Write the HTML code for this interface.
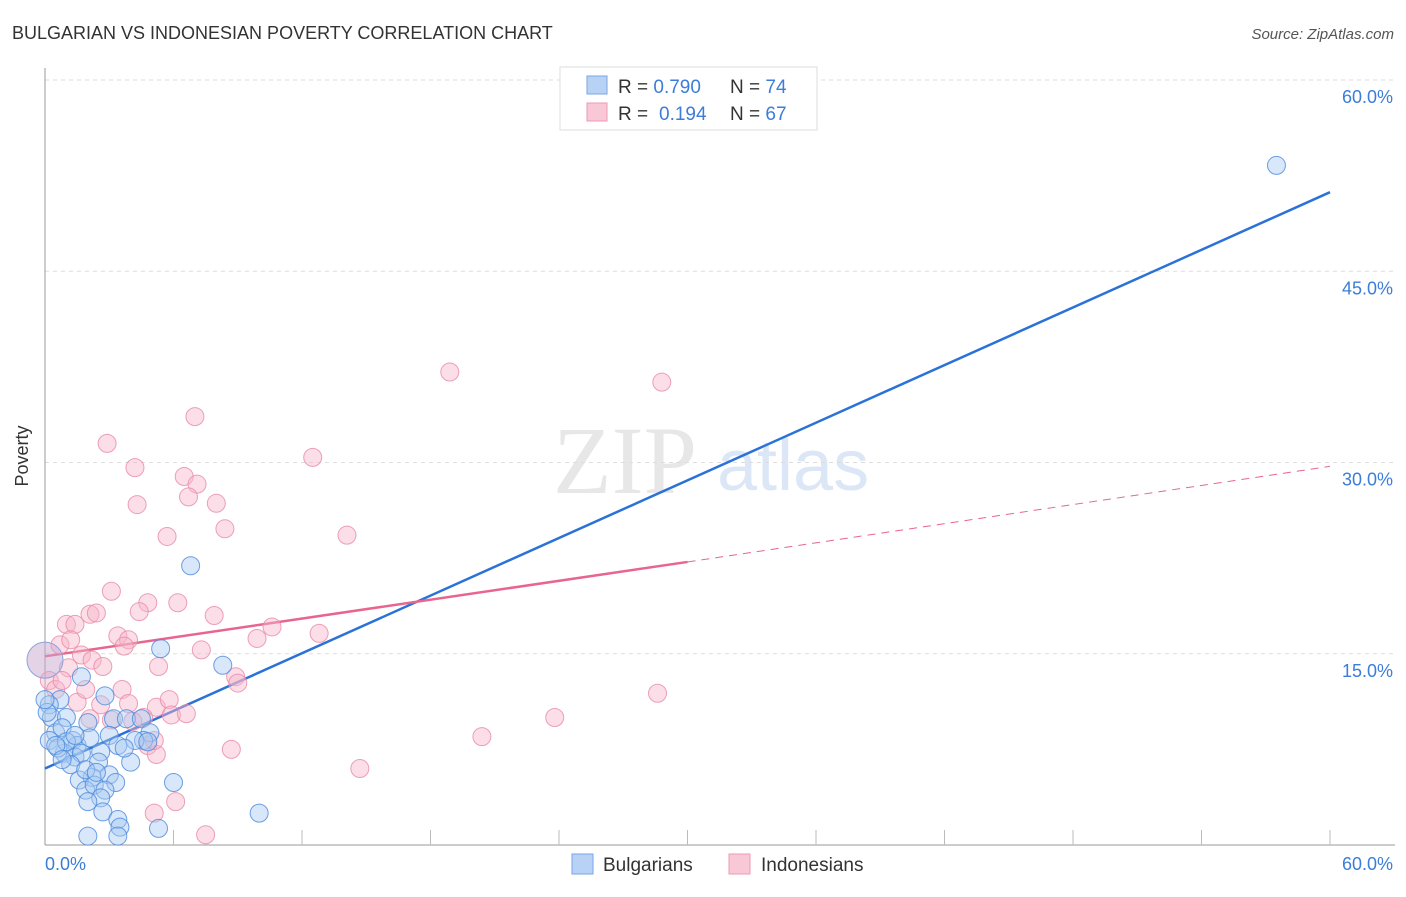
<!DOCTYPE html>
<html><head><meta charset="utf-8"><style>
body{margin:0;background:#fff;font-family:"Liberation Sans",sans-serif}
svg text{font-family:"Liberation Sans",sans-serif}
</style></head><body>
<svg id="chart" width="1406" height="892">
<text x="12" y="39" font-size="18" fill="#333">BULGARIAN VS INDONESIAN POVERTY CORRELATION CHART</text>
<text x="1394" y="39" font-size="15" font-style="italic" fill="#555" text-anchor="end">Source: ZipAtlas.com</text>
<g opacity="0.35">
<text x="553" y="493" font-size="96" font-family="Liberation Serif,serif" fill="#bbb" style="font-family:'Liberation Serif',serif">ZIP</text>
<text x="717" y="490" font-size="72" fill="#9bbbe8">atlas</text>
</g>
<g id="grid"></g>
<g id="axes"></g>
<g id="lines"></g>
<g id="pts"></g>
<text x="28" y="456" font-size="18" fill="#333" transform="rotate(-90 28 456)" text-anchor="middle">Poverty</text>
<g>
<rect x="560" y="67" width="257" height="63" fill="#fff" stroke="#ddd"/>
<rect x="587" y="76" width="20" height="18" fill="#b7d2f5" stroke="#7aa6e6"/>
<rect x="587" y="103" width="20" height="18" fill="#f9c8d6" stroke="#ee9ab2"/>
<text x="618" y="93" font-size="19" fill="#333">R = <tspan fill="#3b7dd8">0.790</tspan><tspan x="730">N = </tspan><tspan fill="#3b7dd8">74</tspan></text>
<text x="618" y="120" font-size="19" fill="#333">R = <tspan x="659" fill="#3b7dd8">0.194</tspan><tspan x="730">N = </tspan><tspan fill="#3b7dd8">67</tspan></text>
</g>
<g>
<rect x="572" y="854" width="21" height="20" fill="#b7d2f5" stroke="#7aa6e6"/>
<text x="603" y="871" font-size="19" fill="#333">Bulgarians</text>
<rect x="729" y="854" width="21" height="20" fill="#f9c8d6" stroke="#ee9ab2"/>
<text x="761" y="871" font-size="19" fill="#333">Indonesians</text>
</g>
</svg>
<script>
const yTicks=[15,30,45,60];
const yTickLabels=["15.0%","30.0%","45.0%","60.0%"];
const xTicks=[6,12,18,24,30,36,42,48,54,60];
const blueX=[57.5,6.8,5.4,8.3,1.7,2.8,0.7,0.2,0.3,1.0,2.0,3.2,3.8,4.5,4.9,4.6,3.0,3.4,0.5,0.8,1.3,1.5,2.1,2.6,0.9,1.4,1.7,2.5,4.0,3.0,3.3,2.2,1.6,1.9,2.3,2.8,2.6,2.0,2.7,3.4,3.5,5.3,2.0,3.4,6.0,10.0,0.2,0.1,0.0,0.6,1.2,1.9,2.4,4.2,4.8,3.7,1.0,1.4,0.5,0.8];
const blueY=[53.3,21.9,15.4,14.1,13.2,11.7,11.4,11.0,10.0,10.0,9.6,9.9,9.9,9.9,8.8,8.2,8.6,7.8,8.8,9.2,8.2,7.8,8.4,7.3,7.2,6.9,7.2,6.5,6.5,5.5,4.9,5.3,5.1,4.3,4.7,4.3,3.7,3.4,2.6,2.0,1.4,1.3,0.7,0.7,4.9,2.5,8.2,10.4,11.4,7.6,6.3,5.9,5.7,8.2,8.1,7.6,8.1,8.6,7.8,6.7];
const pinkX=[18.9,28.8,7.0,2.9,4.2,12.5,6.5,7.1,6.7,8.0,4.3,8.4,5.7,14.1,3.1,4.8,6.2,4.4,2.1,2.4,1.0,1.4,7.9,3.4,3.9,10.6,12.8,9.9,3.7,7.3,1.7,2.2,5.3,2.7,1.1,0.2,0.5,0.8,8.9,9.0,3.6,1.5,2.6,3.9,5.2,5.8,5.9,6.6,4.6,3.1,2.1,4.1,8.7,4.8,5.2,5.1,14.7,20.4,23.8,28.6,6.1,5.1,7.5,0.7,1.2,1.9];
const pinkY=[37.1,36.3,33.6,31.5,29.6,30.4,28.9,28.3,27.3,26.8,26.7,24.8,24.2,24.3,19.9,19.0,19.0,18.3,18.1,18.2,17.3,17.3,18.0,16.4,16.1,17.1,16.6,16.2,15.6,15.3,14.9,14.5,14.0,14.0,13.9,12.9,12.2,12.9,13.2,12.7,12.2,11.2,11.0,11.1,10.8,11.4,10.2,10.3,10.0,9.8,9.9,9.7,7.5,7.8,7.1,8.2,6.0,8.5,10.0,11.9,3.4,2.5,0.8,15.7,16.1,12.2];
const blueTrend=[6.0,51.2];
const pinkTrend=[14.8,22.2,29.7];
const X=v=>45+v*(1330-45)/60, Y=v=>845-v*(845-80)/60;
const NS='http://www.w3.org/2000/svg';
function mk(parent,tag,attrs){const e=document.createElementNS(NS,tag);for(const k in attrs)e.setAttribute(k,attrs[k]);document.getElementById(parent).appendChild(e);return e;}
yTicks.forEach((t,i)=>{
 const l=mk('grid','line',{x1:45,x2:1395,y1:Y(t),y2:Y(t),stroke:'#ddd','stroke-dasharray':'4,4'});
 
 
 const tx=mk('grid','text',{x:1393,y:Y(t)+23,'text-anchor':'end','font-size':18,fill:'#3b7dd8'});
 tx.textContent=yTickLabels[i];
 
 
});
const ya=mk('axes','line',{x1:45,x2:45,y1:68,y2:845,stroke:'#999'});


const xa=mk('axes','line',{x1:45,x2:1395,y1:845,y2:845,stroke:'#999'});


xTicks.forEach(t=>{
 const k=mk('axes','line',{x1:X(t),x2:X(t),y1:830,y2:845,stroke:'#bbb'});
 
 
});
const x0=mk('axes','text',{x:45,y:870,'font-size':18,fill:'#3b7dd8'});x0.textContent='0.0%';


const x1=mk('axes','text',{x:1393,y:870,'font-size':18,fill:'#3b7dd8','text-anchor':'end'});x1.textContent='60.0%';


function pts(xs,ys,fill,stroke,name){xs.forEach((x,i)=>{const c=mk('pts','circle',{cx:X(x),cy:Y(ys[i]),r:9,fill:fill,'fill-opacity':0.45,stroke:stroke,'stroke-opacity':0.8,'stroke-width':1});
 
 });}
pts(pinkX,pinkY,'#f7b6c9','#e98aa8','point-indonesians');
pts(blueX,blueY,'#a9c9f2','#4a88dc','point-bulgarians');
const bc=mk('pts','circle',{cx:X(0),cy:Y(14.5),r:18,fill:'#c9a8cf','fill-opacity':0.5,stroke:'#8aa5dd'});


const bl=mk('lines','line',{x1:X(0),y1:Y(blueTrend[0]),x2:X(60),y2:Y(blueTrend[1]),stroke:'#2a72d8','stroke-width':2.5});


const pl=mk('lines','line',{x1:X(0),y1:Y(pinkTrend[0]),x2:X(30),y2:Y(pinkTrend[1]),stroke:'#e8658f','stroke-width':2.5});


const pd=mk('lines','line',{x1:X(30),y1:Y(pinkTrend[1]),x2:X(60),y2:Y(pinkTrend[2]),stroke:'#e8658f','stroke-width':1,'stroke-dasharray':'8,6'});


</script>
</body></html>
